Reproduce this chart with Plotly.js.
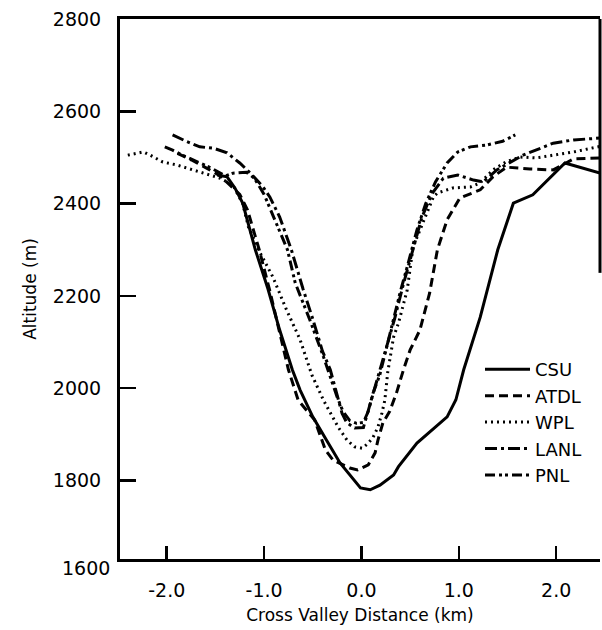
<!DOCTYPE html>
<html>
<head>
<meta charset="utf-8">
<script src="https://cdn.plot.ly/plotly-3.0.1.min.js"></script>
<style>html,body{margin:0;padding:0;background:#fff;}#chart{width:602px;height:630px;}</style>
</head>
<body>
<div id="chart"></div>
<script>
// Series names
const seriesNames = ["CSU", "ATDL", "WPL", "LANL", "PNL"];

// CSU (solid)
const csuX = [-1.48, -1.38, -1.30, -1.22, -1.09, -0.96, -0.84, -0.71, -0.63, -0.50, -0.36, -0.22, -0.01, 0.09, 0.19, 0.26, 0.33, 0.38, 0.57, 0.88, 0.97, 1.05, 1.22, 1.40, 1.56, 1.76, 1.97, 2.09, 2.45];
const csuY = [2462, 2458, 2434, 2401, 2300, 2215, 2126, 2040, 1996, 1938, 1888, 1838, 1784, 1780, 1790, 1801, 1812, 1830, 1881, 1938, 1975, 2040, 2154, 2300, 2401, 2419, 2462, 2488, 2466];

// ATDL (dashed)
const atdlX = [-1.89, -1.75, -1.60, -1.45, -1.35, -1.25, -1.17, -1.05, -0.94, -0.84, -0.75, -0.65, -0.48, -0.37, -0.29, -0.12, -0.04, 0.07, 0.14, 0.17, 0.22, 0.29, 0.36, 0.43, 0.50, 0.60, 0.70, 0.78, 0.88, 1.01, 1.22, 1.35, 1.49, 1.73, 1.97, 2.18, 2.45];
const atdlY = [2509, 2495, 2478, 2460, 2440, 2420, 2386, 2300, 2210, 2122, 2040, 1974, 1931, 1866, 1844, 1827, 1823, 1834, 1860, 1888, 1925, 1950, 1990, 2039, 2083, 2126, 2206, 2300, 2365, 2412, 2430, 2458, 2479, 2475, 2473, 2497, 2499];

// WPL (dotted)
const wplX = [-2.40, -2.24, -2.17, -2.04, -1.90, -1.66, -1.45, -1.32, -1.22, -1.16, -1.04, -0.91, -0.77, -0.63, -0.51, -0.39, -0.24, -0.15, -0.07, 0.01, 0.07, 0.12, 0.17, 0.21, 0.24, 0.27, 0.30, 0.33, 0.38, 0.47, 0.53, 0.67, 0.74, 0.78, 0.94, 1.12, 1.22, 1.35, 1.49, 1.63, 1.80, 1.97, 2.18, 2.45];
const wplY = [2505, 2512, 2505, 2490, 2484, 2469, 2455, 2440, 2400, 2349, 2293, 2241, 2170, 2105, 2029, 1974, 1916, 1888, 1873, 1870, 1881, 1894, 1916, 1946, 1974, 2035, 2075, 2111, 2141, 2213, 2306, 2380, 2415, 2423, 2434, 2436, 2445, 2473, 2491, 2501, 2499, 2505, 2512, 2524];

// LANL (dash-dot)
const lanlX = [-1.94, -1.80, -1.66, -1.52, -1.38, -1.25, -1.14, -1.01, -0.94, -0.84, -0.72, -0.60, -0.50, -0.40, -0.32, -0.24, -0.20, -0.15, -0.07, 0.02, 0.06, 0.11, 0.16, 0.21, 0.27, 0.34, 0.43, 0.53, 0.62, 0.72, 0.84, 0.99, 1.15, 1.25, 1.39, 1.66, 1.80, 1.97, 2.18, 2.45];
const lanlY = [2549, 2535, 2523, 2520, 2510, 2488, 2466, 2436, 2414, 2371, 2300, 2215, 2150, 2080, 2040, 1974, 1946, 1925, 1914, 1915, 1945, 1980, 2018, 2055, 2100, 2150, 2225, 2300, 2370, 2420, 2455, 2462, 2451, 2447, 2473, 2505, 2516, 2531, 2538, 2542];

// PNL (dash-dot-dot)
const pnlX = [-2.02, -1.94, -1.84, -1.70, -1.55, -1.40, -1.32, -1.18, -1.10, -1.00, -0.88, -0.76, -0.68, -0.53, -0.39, -0.25, -0.19, -0.12, -0.05, 0.02, 0.07, 0.12, 0.19, 0.26, 0.33, 0.40, 0.47, 0.57, 0.66, 0.76, 0.88, 0.99, 1.12, 1.29, 1.45, 1.58];
const pnlY = [2523, 2516, 2505, 2492, 2478, 2460, 2466, 2468, 2455, 2420, 2360, 2300, 2228, 2148, 2068, 1981, 1950, 1930, 1924, 1926, 1950, 1990, 2030, 2090, 2150, 2210, 2263, 2343, 2400, 2447, 2488, 2512, 2523, 2527, 2535, 2549];

// Axis ticks
const xTickVals = [-2, -1, 0, 1, 2];
const xTickText = ["-2.0", "-1.0", "0.0", "1.0", "2.0"];
const yTickVals = [1800, 2000, 2200, 2400, 2600, 2800];
const yTickText = ["1800", "2000", "2200", "2400", "2600", "2800"];
const yBottomLabel = "1600";

const FONT = "DejaVu Sans, Arial, sans-serif";
const dashes = ["solid", "9px,5px", "2px,4px", "12px,4px,3px,4px", "10px,4px,3px,3px,3px,4px"];
const xs = [csuX, atdlX, wplX, lanlX, pnlX];
const ys = [csuY, atdlY, wplY, lanlY, pnlY];

const traces = seriesNames.map((n, i) => ({
  type: "scatter", mode: "lines", name: n, x: xs[i], y: ys[i],
  line: {color: "#000", width: 3, dash: dashes[i]}
}));

const layout = {
  width: 602, height: 630,
  margin: {l: 120, r: 2, t: 19, b: 71},
  paper_bgcolor: "#fff", plot_bgcolor: "#fff",
  font: {family: FONT, color: "#000"},
  showlegend: true,
  legend: {x: 0.75, y: 0.385, xanchor: "left", yanchor: "top", bgcolor: "rgba(0,0,0,0)",
           font: {family: FONT, size: 18, color: "#000"}, tracegroupgap: 0, itemwidth: 45},
  xaxis: {
    range: [-2.48, 2.45], showgrid: false, zeroline: false,
    showline: true, linewidth: 3, linecolor: "#000", mirror: true,
    ticks: "inside", ticklen: 13, tickwidth: 2.5, tickcolor: "#000",
    tickvals: xTickVals, ticktext: xTickText, ticklabelstandoff: 12,
    tickfont: {family: FONT, size: 19, color: "#000"},
    title: {text: "Cross Valley Distance (km)", font: {family: FONT, size: 17, color: "#000"}, standoff: 10}
  },
  yaxis: {
    range: [1630, 2800], showgrid: false, zeroline: false,
    showline: true, linewidth: 3, linecolor: "#000",
    ticks: "inside", ticklen: 16, tickwidth: 2.5, tickcolor: "#000",
    tickvals: yTickVals, ticktext: yTickText, ticklabelstandoff: 12,
    tickfont: {family: FONT, size: 19, color: "#000"},
    title: {text: "Altitude (m)", font: {family: FONT, size: 17, color: "#000"}, standoff: 12}
  },
  shapes: [
    {type: "line", xref: "paper", yref: "y", x0: 1, x1: 1, y0: 2250, y1: 2800, layer: "above", line: {color: "#000", width: 3}}
  ],
  annotations: [
    {text: yBottomLabel, xref: "paper", yref: "paper", x: -0.017, y: -0.017, xanchor: "right", yanchor: "middle",
     showarrow: false, font: {family: FONT, size: 19, color: "#000"}}
  ]
};

Plotly.newPlot("chart", traces, layout, {displayModeBar: false, staticPlot: true});
</script>
</body>
</html>
